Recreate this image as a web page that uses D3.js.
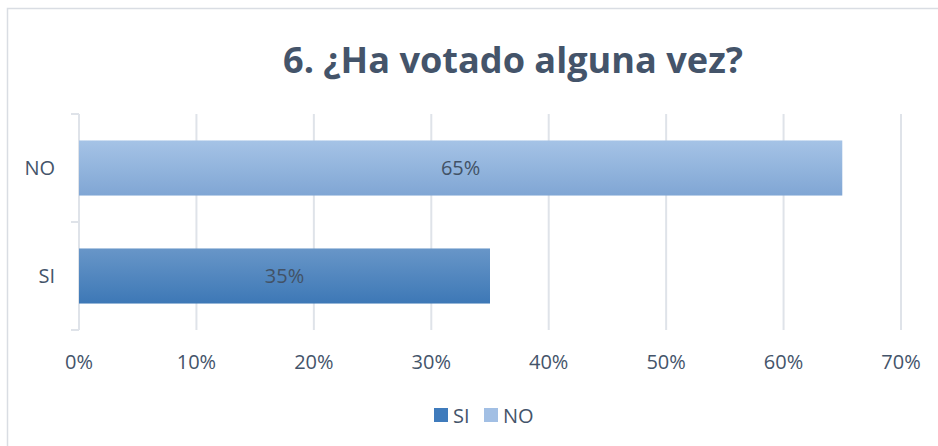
<!DOCTYPE html>
<html>
<head>
<meta charset="utf-8">
<script src="https://cdn.jsdelivr.net/npm/d3@7"></script>
<style>
  body { margin: 0; background: #fff; }
  svg { display: block; font-family: "Open Sans", sans-serif; }
</style>
</head>
<body>
<div id="chart"></div>
<script>
// data
var categories = ["NO", "SI"];
var values = [0.65, 0.35];
var xTicks = [0, 0.1, 0.2, 0.3, 0.4, 0.5, 0.6, 0.7];
var legendItems = ["SI", "NO"];
var title = "6. ¿Ha votado alguna vez?";

var width = 938, height = 446;
var textColor = "#44546a";
var gridColor = "#dfe3e9";
var fontSize = "20px";

var svg = d3.select("#chart")
  .append("svg")
    .attr("width", width)
    .attr("height", height);

// gradients
var defs = svg.append("defs");
function grad(id, top, bottom) {
    var g = defs.append("linearGradient").attr("id", id)
        .attr("x1", 0).attr("y1", 0).attr("x2", 0).attr("y2", 1);
    g.append("stop").attr("offset", "0%").attr("stop-color", top);
    g.append("stop").attr("offset", "100%").attr("stop-color", bottom);
}
grad("g-NO", "#a5c3e6", "#80a6d4");
grad("g-SI", "#6896c8", "#3d78b6");
var legendFill = {SI: "#3f7bbc", NO: "#a2bfe4"};

// chart frame
svg.append("rect")
    .attr("x", 7.5).attr("y", 8.5)
    .attr("width", width + 20).attr("height", height + 20)
    .attr("fill", "none")
    .attr("stroke", "#d9dde3")
    .attr("stroke-width", 1.5);

// scales
var x = d3.scaleLinear().domain([0, 0.7]).range([79, 901]);
var y = d3.scaleBand().domain(categories).range([114, 330]).padding(0);
var barH = y.bandwidth() * 0.51;

// gridlines
svg.append("g")
  .selectAll("line")
  .data(xTicks)
  .enter()
  .append("line")
    .attr("x1", function (d) { return x(d); })
    .attr("x2", function (d) { return x(d); })
    .attr("y1", 114)
    .attr("y2", 330)
    .attr("stroke", gridColor)
    .attr("stroke-width", 2);

// y axis ticks at category boundaries
var bounds = categories.map(function (c) { return y(c); }).concat([y.range()[1]]);
svg.append("g")
  .selectAll("line")
  .data(bounds)
  .enter()
  .append("line")
    .attr("x1", 71).attr("x2", 79)
    .attr("y1", function (d) { return d; })
    .attr("y2", function (d) { return d; })
    .attr("stroke", gridColor)
    .attr("stroke-width", 2);

// x tick labels
svg.append("g")
  .selectAll("text")
  .data(xTicks)
  .enter()
  .append("text")
    .attr("x", function (d) { return x(d); })
    .attr("y", 369)
    .attr("text-anchor", "middle")
    .attr("fill", textColor)
    .style("font-size", fontSize)
    .text(d3.format(".0%"));

// category labels
svg.append("g")
  .selectAll("text")
  .data(categories)
  .enter()
  .append("text")
    .attr("x", 55)
    .attr("y", function (d) { return y(d) + y.bandwidth() / 2 + 7; })
    .attr("text-anchor", "end")
    .attr("fill", textColor)
    .style("font-size", fontSize)
    .text(function (d) { return d; });

// bars
var bars = svg.append("g")
  .selectAll("g")
  .data(categories)
  .enter()
  .append("g");

bars.append("rect")
    .attr("x", x(0))
    .attr("y", function (d) { return y(d) + (y.bandwidth() - barH) / 2; })
    .attr("width", function (d, i) { return x(values[i]) - x(0); })
    .attr("height", barH)
    .attr("fill", function (d) { return "url(#g-" + d + ")"; });

bars.append("text")
    .attr("x", function (d, i) { return (x(0) + x(values[i])) / 2; })
    .attr("y", function (d) { return y(d) + y.bandwidth() / 2 + 7; })
    .attr("text-anchor", "middle")
    .attr("fill", "#425266")
    .style("font-size", fontSize)
    .text(function (d, i) { return d3.format(".0%")(values[i]); });

// title, sized to fit the reference width
var t = svg.append("text")
    .attr("x", 513)
    .attr("y", 73)
    .attr("text-anchor", "middle")
    .attr("fill", textColor)
    .style("font-weight", "bold")
    .style("font-size", "40px")
    .text(title);
var tl = t.node().getComputedTextLength();
t.style("font-size", (40 * 460 / tl) + "px");

// legend
var legendX = [434, 484];
var legend = svg.append("g")
  .selectAll("g")
  .data(legendItems)
  .enter()
  .append("g")
    .attr("transform", function (d, i) { return "translate(" + legendX[i] + ",408)"; });

legend.append("rect")
    .attr("width", 14).attr("height", 14)
    .attr("fill", function (d) { return legendFill[d]; });

legend.append("text")
    .attr("x", 19)
    .attr("y", 14.5)
    .attr("fill", textColor)
    .style("font-size", fontSize)
    .text(function (d) { return d; });
</script>
</body>
</html>
